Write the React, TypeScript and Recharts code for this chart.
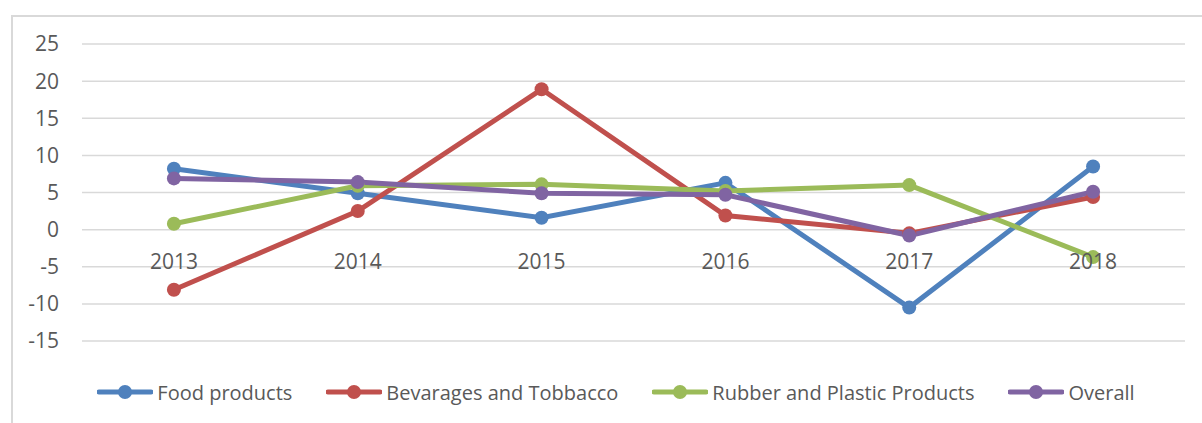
import React from "react";
import { LineChart, Line, XAxis, YAxis, CartesianGrid, Legend } from "recharts";

const years = ["2013", "2014", "2015", "2016", "2017", "2018"];
const foodProducts = [8.2, 4.9, 1.6, 6.3, -10.5, 8.5];
const beveragesTobacco = [-8.1, 2.5, 18.9, 1.9, -0.5, 4.4];
const rubberPlastic = [0.8, 5.9, 6.1, 5.2, 6.0, -3.7];
const overall = [6.9, 6.4, 4.9, 4.7, -0.8, 5.1];
const yTicks = [-15, -10, -5, 0, 5, 10, 15, 20, 25];

const seriesNames = ["Food products", "Bevarages and Tobbacco", "Rubber and Plastic Products", "Overall"];
const seriesKeys = ["food", "bev", "rubber", "overall"];
const seriesColors = ["#4F81BD", "#C0504D", "#9BBB59", "#8064A2"];
const seriesValues = [foodProducts, beveragesTobacco, rubberPlastic, overall];

const data = years.map((y, i) => {
  const row: Record<string, string | number> = { year: y };
  seriesKeys.forEach((k, s) => {
    row[k] = seriesValues[s][i];
  });
  return row;
});

const W = 1202;
const H = 423;
const XAXIS_H = 30;
const MARGIN = { top: 44, right: 17, bottom: 82 - XAXIS_H, left: 0 };
const Y_AXIS_W = 82;
const FONT = "'Open Sans', sans-serif";
const TEXT = "#595959";
const FONT_SIZE = 21;

const yMin = yTicks[0];
const yMax = yTicks[yTicks.length - 1];
const plotH = H - MARGIN.top - MARGIN.bottom - XAXIS_H;
const zeroY = MARGIN.top + ((yMax - 0) / (yMax - yMin)) * plotH;

const XTick = (props: any) => {
  const { x, payload } = props;
  return (
    <text
      x={x}
      y={zeroY + 32}
      dy="0.355em"
      textAnchor="middle"
      fill={TEXT}
      fontSize={FONT_SIZE}
      fontFamily={FONT}
    >
      {payload.value}
    </text>
  );
};

const renderLegend = () => (
  <div
    style={{
      display: "flex",
      justifyContent: "center",
      alignItems: "center",
      gap: 34,
      paddingLeft: 30,
      fontFamily: FONT,
      fontSize: 20,
      color: TEXT,
      height: 28,
    }}
  >
    {seriesNames.map((n, i) => (
      <div key={n} style={{ display: "flex", alignItems: "center" }}>
        <svg width={56} height={16} style={{ marginRight: 4 }}>
          <line x1={2} y1={8} x2={54} y2={8} stroke={seriesColors[i]} strokeWidth={5} strokeLinecap="round" />
          <circle cx={28} cy={8} r={7} fill={seriesColors[i]} />
        </svg>
        <span style={{ whiteSpace: "nowrap" }}>{n}</span>
      </div>
    ))}
  </div>
);

export default function App() {
  return (
    <div style={{ position: "absolute", left: 0, top: 0, width: W, height: H, background: "#fff", overflow: "hidden" }}>
      <div
        style={{
          position: "absolute",
          left: 11,
          top: 15,
          width: W,
          height: H,
          borderTop: "2px solid #d9d9d9",
          borderLeft: "2px solid #d9d9d9",
        }}
      />
      <div style={{ position: "absolute", left: 0, top: 0 }}>
        <LineChart width={W} height={H} data={data} margin={MARGIN}>
          <CartesianGrid vertical={false} stroke="#d9d9d9" strokeWidth={1.5} />
          <XAxis
            dataKey="year"
            scale="band"
            axisLine={false}
            tickLine={false}
            tick={<XTick />}
            interval={0}
            height={XAXIS_H}
          />
          <YAxis
            width={Y_AXIS_W}
            domain={[yMin, yMax]}
            ticks={yTicks}
            axisLine={false}
            tickLine={false}
            tickSize={0}
            tickMargin={23}
            interval={0}
            tick={{ fill: TEXT, fontSize: FONT_SIZE, fontFamily: FONT }}
          />
          {seriesKeys.map((k, i) => (
            <Line
              key={k}
              type="linear"
              dataKey={k}
              name={seriesNames[i]}
              stroke={seriesColors[i]}
              strokeWidth={5}
              dot={{ r: 7, fill: seriesColors[i], stroke: seriesColors[i], strokeWidth: 0 }}
              activeDot={false}
              isAnimationActive={false}
            />
          ))}
          <Legend
            content={renderLegend}
            wrapperStyle={{ position: "absolute", top: 378, left: 0, width: W, height: 0, overflow: "visible" }}
          />
        </LineChart>
      </div>
    </div>
  );
}
